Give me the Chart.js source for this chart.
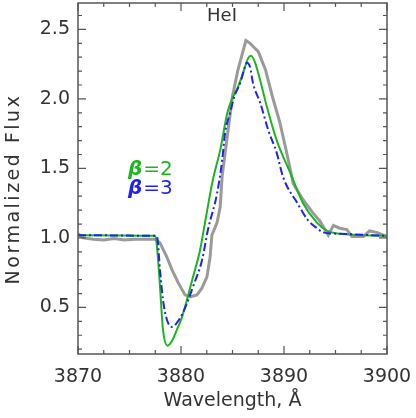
<!DOCTYPE html>
<html>
<head>
<meta charset="utf-8">
<script src="https://cdn.jsdelivr.net/npm/chart.js@4/dist/chart.umd.min.js"></script>
<style>
  html, body { margin: 0; padding: 0; background: #fff; }
  #wrap { width: 416px; height: 418px; }
</style>
</head>
<body>
<div id="wrap"><canvas id="chart"></canvas></div>
<script>
// observed HeI profile (gray)
const obsWave = [3870, 3870.5, 3871.5, 3872.5, 3873.5, 3874.5, 3875.5, 3876.5, 3877.5, 3877.96, 3878.64, 3879.13, 3879.71, 3880.39, 3880.87, 3881.55, 3882.04, 3882.52, 3882.82, 3883.0, 3883.5, 3883.8, 3884.0, 3884.3, 3885.0, 3885.5, 3886.3, 3886.7, 3887.5, 3888.2, 3888.9, 3889.6, 3890.3, 3890.9, 3891.8, 3892.8, 3893.5, 3894.3, 3894.8, 3895.4, 3896.1, 3896.6, 3897.7, 3898.3, 3899.0, 3900]
const obsFlux = [1.03, 1.0, 0.99, 0.985, 0.995, 0.985, 0.99, 0.99, 0.99, 0.964, 0.86, 0.77, 0.68, 0.59, 0.576, 0.59, 0.64, 0.72, 0.86, 1.02, 1.11, 1.22, 1.45, 1.62, 2.02, 2.2, 2.42, 2.40, 2.34, 2.21, 2.01, 1.83, 1.6, 1.39, 1.28, 1.18, 1.12, 1.02, 1.09, 1.07, 1.06, 1.01, 1.01, 1.05, 1.04, 1.01]

// model beta = 2 (green)
const beta2Wave = [3870, 3877.5, 3877.67, 3877.96, 3878.25, 3878.7, 3879.13, 3879.61, 3880.1, 3880.58, 3881.17, 3881.84, 3882.33, 3883.1, 3883.8, 3884.5, 3884.95, 3885.5, 3886.0, 3886.5, 3886.8, 3887.2, 3887.7, 3888.35, 3889.3, 3890.6, 3891.85, 3893.2, 3894.2, 3895.4, 3900]
const beta2Flux = [1.02, 1.015, 0.935, 0.65, 0.34, 0.225, 0.26, 0.34, 0.43, 0.555, 0.72, 0.91, 1.11, 1.42, 1.63, 1.90, 2.00, 2.08, 2.18, 2.29, 2.31, 2.26, 2.13, 1.94, 1.70, 1.47, 1.25, 1.11, 1.05, 1.03, 1.015]

// model beta = 3 (blue)
const beta3Wave = [3870, 3877.5, 3877.67, 3877.96, 3878.25, 3878.64, 3879.13, 3879.61, 3880.1, 3880.58, 3881.17, 3882.04, 3882.62, 3883.5, 3884.0, 3884.27, 3884.76, 3885.24, 3885.73, 3886.2, 3886.4, 3886.7, 3887.0, 3887.7, 3888.45, 3889.3, 3889.9, 3891.3, 3892.3, 3893.2, 3893.8, 3895.4, 3900]
const beta3Flux = [1.02, 1.015, 1.01, 0.77, 0.555, 0.41, 0.36, 0.39, 0.45, 0.53, 0.65, 0.84, 1.06, 1.32, 1.56, 1.75, 1.90, 2.03, 2.11, 2.23, 2.26, 2.23, 2.11, 1.97, 1.78, 1.61, 1.44, 1.25, 1.13, 1.07, 1.04, 1.03, 1.015]

const xTicks = [3870, 3880, 3890, 3900]
const yTicks = [0.5, 1.0, 1.5, 2.0, 2.5]
const legendLabels = ['2', '3']

const FRAME = '#555'
const TEXT = '#333'
const FONT = 'DejaVu Sans'

const toPoints = (xs, ys) => xs.map((x, i) => ({ x: x, y: ys[i] }))

// IDL-style box with inward ticks on all 4 sides, plus labels
const framePlugin = {
  id: 'frame',
  afterDatasetsDraw(chart) {
    const { ctx, chartArea: a, scales } = chart
    const xs = scales.x, ys = scales.y
    ctx.save()
    ctx.strokeStyle = FRAME
    ctx.lineWidth = 1.5
    ctx.strokeRect(a.left, a.top, a.right - a.left, a.bottom - a.top)
    ctx.lineWidth = 1.2
    ctx.beginPath()
    for (let v = 3870; v <= 3900; v += 2.5) {
      const px = xs.getPixelForValue(v)
      const len = (v % 10 === 0) ? 8 : 4
      ctx.moveTo(px, a.bottom); ctx.lineTo(px, a.bottom - len)
      ctx.moveTo(px, a.top); ctx.lineTo(px, a.top + len)
    }
    for (let i = 2; i <= 26; i++) {
      const v = i / 10
      const py = ys.getPixelForValue(v)
      if (py < a.top || py > a.bottom) continue
      const len = (i % 5 === 0) ? 8 : 4
      ctx.moveTo(a.left, py); ctx.lineTo(a.left + len, py)
      ctx.moveTo(a.right, py); ctx.lineTo(a.right - len, py)
    }
    ctx.stroke()

    // line name
    ctx.fillStyle = TEXT
    ctx.font = '18px ' + FONT
    ctx.textAlign = 'center'
    ctx.textBaseline = 'middle'
    ctx.fillText('HeI', 222, 16)

    // y axis title, drawn by hand to get the wide letter spacing
    ctx.save()
    ctx.translate(14, 189)
    ctx.rotate(-Math.PI / 2)
    ctx.font = '19px ' + FONT
    ctx.letterSpacing = '2.5px'
    ctx.fillText('Normalized Flux', 0, 0)
    ctx.restore()

    // legend
    const colors = ['#1db51d', '#2222ee']
    legendLabels.forEach((lab, i) => {
      const y = 170 + i * 19
      ctx.fillStyle = colors[i]
      ctx.textAlign = 'left'
      ctx.font = 'italic bold 20px ' + FONT
      ctx.fillText('β', 128, y)
      const w = ctx.measureText('β').width
      ctx.font = '20px ' + FONT
      ctx.fillText('=' + lab, 128 + w + 1, y)
    })
    ctx.restore()
  }
}

const chart = new Chart(document.getElementById('chart'), {
  type: 'scatter',
  data: {
    datasets: [
      {
        label: 'observed',
        data: toPoints(obsWave, obsFlux),
        showLine: true,
        borderColor: '#9a9a9a',
        borderWidth: 3,
        pointRadius: 0,
        order: 3
      },
      {
        label: 'beta=2',
        data: toPoints(beta2Wave, beta2Flux),
        showLine: true,
        borderColor: '#1db51d',
        borderWidth: 2,
        pointRadius: 0,
        cubicInterpolationMode: 'monotone',
        order: 2
      },
      {
        label: 'beta=3',
        data: toPoints(beta3Wave, beta3Flux),
        showLine: true,
        borderColor: '#2222ee',
        borderWidth: 2,
        borderDash: [8, 3, 2, 3],
        pointRadius: 0,
        cubicInterpolationMode: 'monotone',
        order: 1
      }
    ]
  },
  options: {
    responsive: true,
    maintainAspectRatio: false,
    animation: false,
    layout: { padding: { top: 3, right: 29, left: 0, bottom: 0 } },
    plugins: { legend: { display: false }, tooltip: { enabled: false } },
    scales: {
      x: {
        type: 'linear',
        min: 3870,
        max: 3900,
        afterBuildTicks: (s) => { s.ticks = xTicks.map(v => ({ value: v })) },
        afterFit: (s) => { s.height = 64; s.paddingLeft = 0; s.paddingRight = 0 },
        grid: { display: false, drawTicks: false },
        border: { display: false },
        ticks: { color: TEXT, font: { family: FONT, size: 19 }, padding: 12, maxRotation: 0, callback: (v) => String(v) },
        title: { display: true, text: 'Wavelength, Å', color: TEXT, font: { family: FONT, size: 19 }, padding: { top: 0, bottom: 6 } }
      },
      y: {
        type: 'linear',
        min: 0.165,
        max: 2.69,
        afterBuildTicks: (s) => { s.ticks = yTicks.map(v => ({ value: v })) },
        afterFit: (s) => { s.width = 78; s.paddingTop = 0; s.paddingBottom = 0 },
        grid: { display: false, drawTicks: false },
        border: { display: false },
        ticks: { color: TEXT, font: { family: FONT, size: 19 }, padding: 8, callback: (v) => v.toFixed(1) },
        title: { display: false }
      }
    }
  },
  plugins: [framePlugin]
})
</script>
</body>
</html>
